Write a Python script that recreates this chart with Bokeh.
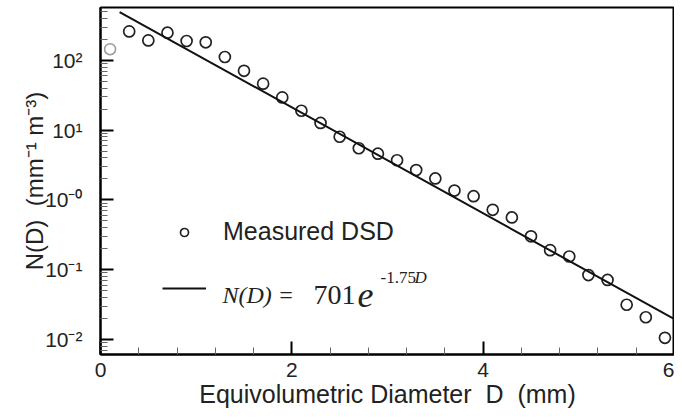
from bokeh.plotting import figure
from bokeh.models import FixedTicker, Range1d, Legend, LegendItem, Label
from bokeh.embed import file_html
from bokeh.resources import INLINE

# ---- data ----
D_first = [0.1]
N_first = [145]

D = [0.3, 0.5, 0.7, 0.9, 1.1, 1.3, 1.5, 1.7, 1.9, 2.1, 2.3, 2.5, 2.7, 2.9,
     3.1, 3.3, 3.5, 3.7, 3.9, 4.1, 4.3, 4.5, 4.7, 4.9, 5.1, 5.3, 5.5, 5.7, 5.9]
N = [261, 194, 250, 190, 182, 112, 71, 46.5, 29.5, 19, 12.7, 8.05, 5.5, 4.6,
     3.7, 2.68, 2.03, 1.36, 1.13, 0.72, 0.56, 0.30, 0.19, 0.154, 0.0835, 0.071,
     0.0313, 0.0207, 0.0105]

fit_D = [0.2, 6.0]
fit_N = [494, 0.0194]

x_ticks = [0, 2, 4, 6]
y_ticks = [0.01, 0.1, 1, 10, 100]
y_tick_labels = ["10\u207b\u00b2", "10\u207b\u00b9", "10\u207b\u2070", "10\u00b9", "10\u00b2"]

p = figure(width=674, height=410, y_axis_type="log",
           x_range=Range1d(0, 6), y_range=Range1d(0.00605, 575),
           output_backend="svg", toolbar_location=None,
           min_border_left=100, min_border_right=0, min_border_top=7,
           min_border_bottom=54)
p.grid.visible = False
p.outline_line_color = "black"
p.outline_line_width = 2
p.background_fill_color = "white"
p.border_fill_color = "white"

gray = p.scatter(D_first, N_first, size=11, marker="circle", fill_color=None,
                 line_color="#999999", line_width=1.5)
sc = p.scatter(D, N, size=11, marker="circle", fill_color=None,
               line_color="#222222", line_width=1.7)
ln = p.line(fit_D, fit_N, line_color="#111111", line_width=2)

minor_x = [0.4 * i for i in range(1, 15) if i % 5 != 0]
minor_y = [m * 10.0 ** e for e in range(-3, 3) for m in range(2, 10)]
p.xaxis.ticker = FixedTicker(ticks=x_ticks, minor_ticks=minor_x)
p.yaxis.ticker = FixedTicker(ticks=y_ticks, minor_ticks=minor_y)
p.yaxis.major_label_overrides = {t: l for t, l in zip(y_ticks, y_tick_labels)}
p.xaxis.major_label_overrides = {t: str(t) for t in x_ticks}

for ax in (p.xaxis[0], p.yaxis[0]):
    ax.axis_line_width = 2
    ax.axis_line_color = "black"
    ax.major_tick_in = 13
    ax.major_tick_out = 0
    ax.minor_tick_in = 7
    ax.minor_tick_out = 0
    ax.major_tick_line_width = 2
    ax.major_tick_line_color = "black"
    ax.minor_tick_line_width = 1
    ax.minor_tick_line_color = "#666666"
    ax.major_label_text_font = "Liberation Sans"
    ax.major_label_text_font_size = "21px"
    ax.major_label_text_color = "#222222"
    ax.axis_label_text_font = "Liberation Sans"
    ax.axis_label_text_font_size = "25px"
    ax.axis_label_text_font_style = "normal"
    ax.axis_label_text_color = "#222222"

nb = "\u00a0"
p.xaxis.axis_label = "Equivolumetric Diameter" + nb + nb + "D" + nb + nb + "(mm)"
p.xaxis.major_label_standoff = 8
p.xaxis.axis_label_standoff = 0
p.yaxis.axis_label = "N(D)" + nb + nb + "(mm\u207b\u00b9 m\u207b\u00b3)"
p.yaxis.axis_label_text_font_size = "24px"
p.yaxis.major_label_standoff = 18
p.yaxis.axis_label_standoff = -6

legend = Legend(items=[LegendItem(label="Measured DSD", renderers=[sc]),
                       LegendItem(label=" ", renderers=[ln])],
                location=(62, 56), glyph_width=44, glyph_height=20,
                label_height=20, spacing=32, padding=0, margin=0,
                label_standoff=17, border_line_color=None,
                background_fill_alpha=0,
                label_text_font="Liberation Sans", label_text_font_size="25px",
                label_text_color="#222222")
p.add_layout(legend)

serif = "Liberation Serif"
p.add_layout(Label(x=1.275, y=0.0435, text="N(D) =", text_font=serif,
                   text_font_style="italic", text_font_size="24px",
                   text_baseline="alphabetic", text_color="#222222"))
p.add_layout(Label(x=2.226, y=0.0435, text="701", text_font=serif,
                   text_font_style="normal", text_font_size="28px",
                   text_baseline="alphabetic", text_color="#222222"))
p.add_layout(Label(x=2.686, y=0.0435, text="e", text_font=serif,
                   text_font_style="italic", text_font_size="36px",
                   text_baseline="alphabetic", text_color="#222222"))
p.add_layout(Label(x=2.927, y=0.0758, text="-1.75", text_font=serif,
                   text_font_style="normal", text_font_size="17px",
                   text_baseline="alphabetic", text_color="#222222"))
p.add_layout(Label(x=3.282, y=0.0758, text="D", text_font=serif,
                   text_font_style="italic", text_font_size="17px",
                   text_baseline="alphabetic", text_color="#222222"))

open("out.html", "w").write(file_html(p, INLINE))
